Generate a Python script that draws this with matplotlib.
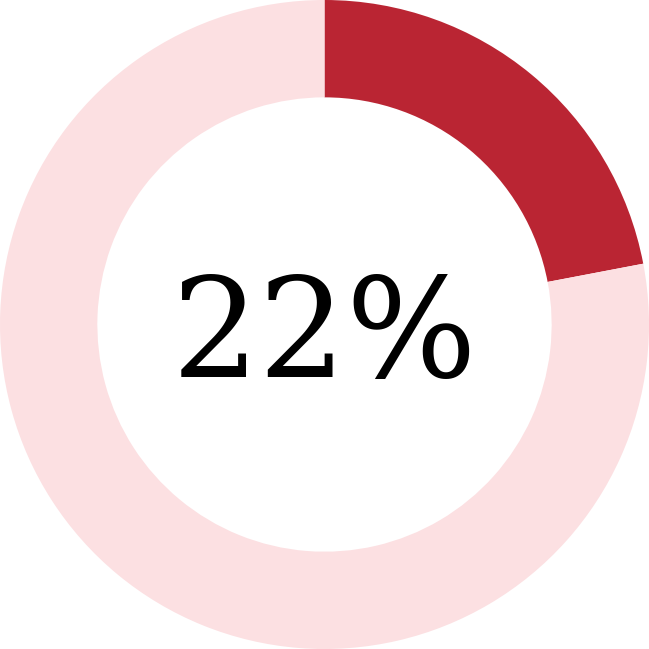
import matplotlib
matplotlib.use("Agg")
import matplotlib.pyplot as plt

# data
labels = ["value", "rest"]
values = [22, 78]
colors = ["#BA2533", "#FCE0E2"]
center_text = "22%"

fig = plt.figure(figsize=(6.49, 6.49), dpi=100)
ax = fig.add_axes([0, 0, 1, 1])

ax.pie(values, colors=colors, startangle=90, counterclock=False,
       radius=1.0, wedgeprops=dict(width=0.30, linewidth=0))
ax.text(0, -0.045, center_text, ha="center", va="center",
        fontsize=99, family="DejaVu Serif", color="black")

ax.set_xlim(-1.0, 1.0)
ax.set_ylim(-1.0, 1.0)
ax.set_aspect("equal")
ax.axis("off")

fig.savefig("out.png", dpi=100)
